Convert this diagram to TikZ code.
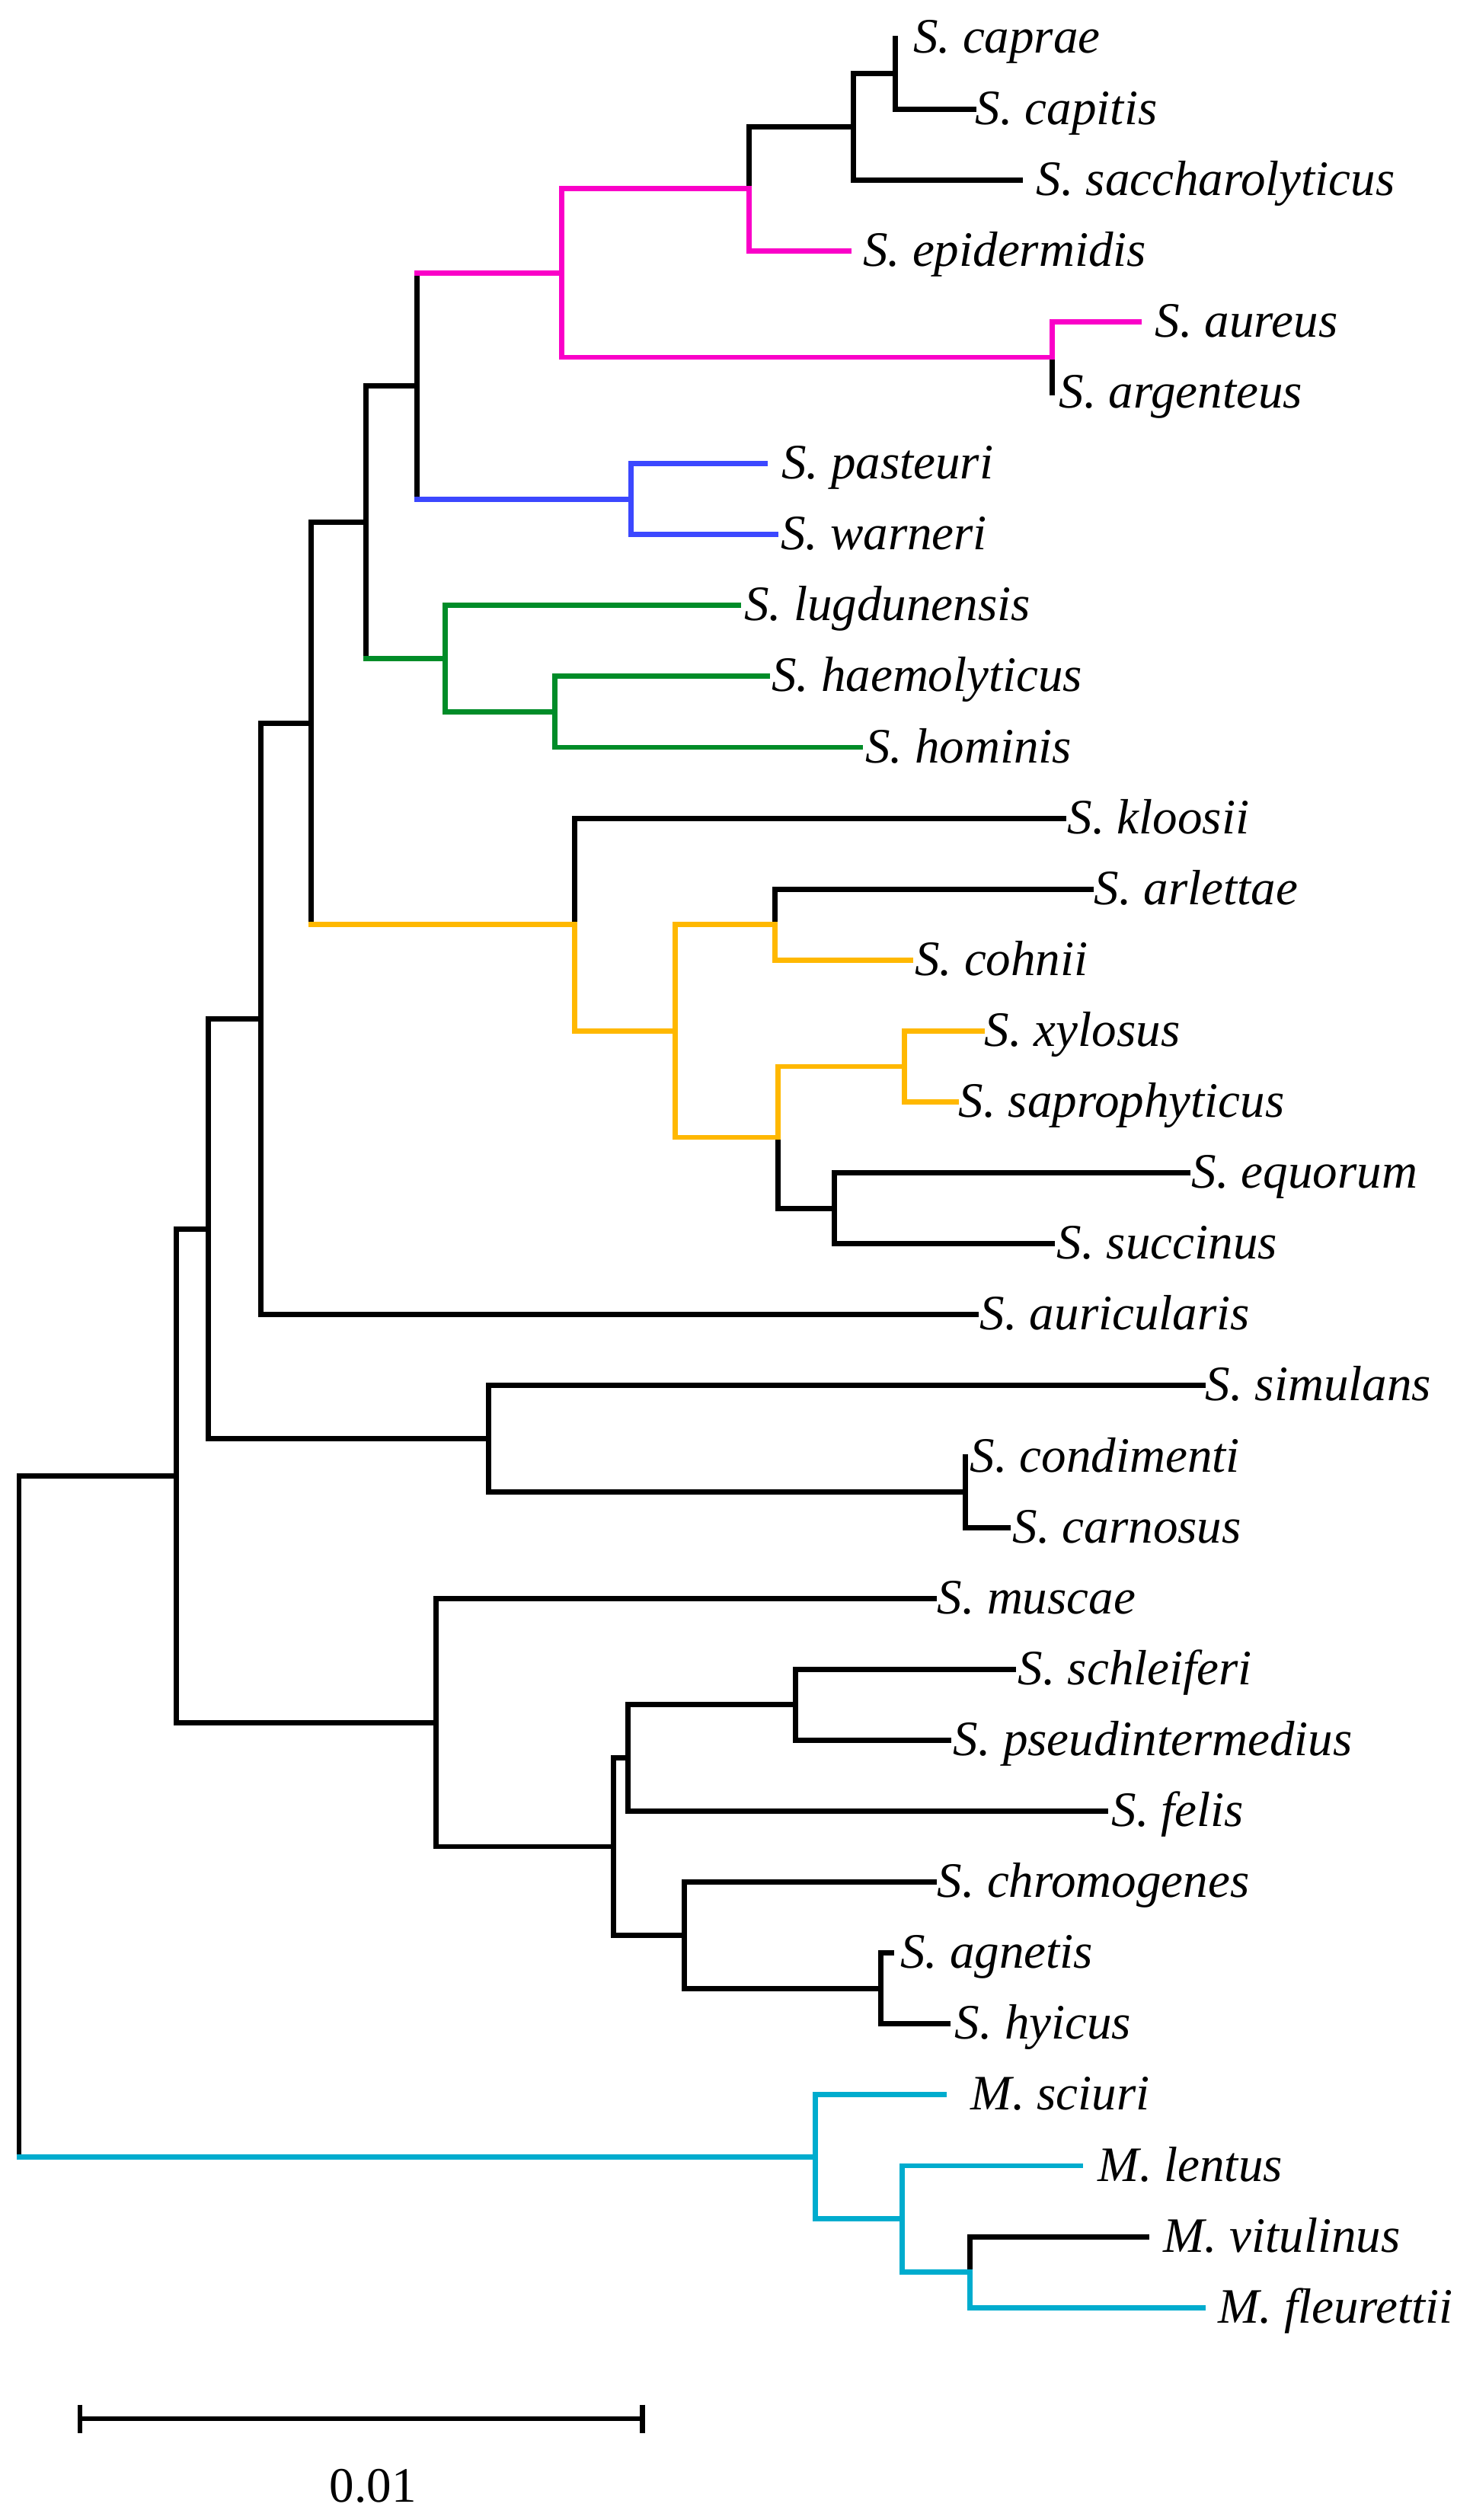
\documentclass[tikz,border=0pt]{standalone}
\usepackage{fontspec}
\setmainfont{Liberation Serif}
\usetikzlibrary{calc}
\definecolor{cladepink}{RGB}{250,0,200}
\definecolor{cladeblue}{RGB}{60,72,255}
\definecolor{cladegreen}{RGB}{0,140,40}
\definecolor{cladeyellow}{RGB}{255,184,0}
\definecolor{cladecyan}{RGB}{0,172,206}
% elbow from a parent to a child, and a stem whose upright stays black
\def\clade[#1](#2)(#3){\draw[branch,#1] (#2) |- (#3);}
\def\stem[#1](#2)(#3){\draw[branch] (#2) -- (#2 |- #3); \draw[branch,#1] (#2 |- #3) -- (#3);}

\begin{document}
\begin{tikzpicture}[x=0.01cm, y=-0.931cm,
    branch/.style={line width=1.95pt, line cap=rect},
    taxon/.style={anchor=base west, inner sep=0pt, yshift=-0.2cm, font=\fontsize{18.5}{22}\selectfont\itshape}]
			%%%%% START %%%%%
			
			\useasboundingbox (0,-0.537) rectangle (1935,34.995);
			
			% tips: name / end of branch / start of label / label
			\foreach \nm/\xe/\xl/\txt [count=\i from 0] in {
				caprae/1176/1199/S. caprae, capitis/1279/1281/S. capitis,
				sacch/1340/1361/S. saccharolyticus, epid/1115/1133/S. epidermidis,
				aureus/1496/1517/S. aureus, argent/1382/1391/S. argenteus,
				pasteur/1005/1026/S. pasteuri, warner/1019/1025/S. warneri,
				lugd/970/977/S. lugdunensis, haemo/1008/1013/S. haemolyticus,
				homin/1130/1136/S. hominis, kloos/1397/1402/S. kloosii,
				arlet/1433/1437/S. arlettae, cohn/1196/1201/S. cohnii,
				xylos/1290/1293/S. xylosus, sapro/1256/1259/S. saprophyticus,
				equor/1560/1565/S. equorum, succin/1382/1388/S. succinus,
				auric/1282/1287/S. auricularis, simul/1580/1583/S. simulans,
				condim/1268/1274/S. condimenti, carnos/1324/1330/S. carnosus,
				musc/1227/1231/S. muscae, schleif/1331/1337/S. schleiferi,
				pseud/1246/1252/S. pseudintermedius, felis/1452/1460/S. felis,
				chromo/1227/1231/S. chromogenes, agnet/1171/1182/S. agnetis,
				hyic/1245/1254/S. hyicus, sciuri/1240/1275/M. sciuri,
				lentus/1419/1442/M. lentus, vitul/1506/1528/M. vitulinus,
				fleur/1580/1600/M. fleurettii}
			{
				\coordinate (\nm) at (\xe,\i);
				\node[taxon] (\nm-lbl) at (\xl,\i) {\txt};
			}
			
			% inner nodes
			\coordinate (n1) at (1176,0.5);
			\coordinate (n2) at (1121,1.25);
			\coordinate (n3) at (984,2.125);
			\coordinate (n4) at (1382,4.5);
			\coordinate (n5) at (738,3.3125);
			\coordinate (n6) at (829,6.5);
			\coordinate (n7) at (548,4.906);
			\coordinate (n8) at (729,9.5);
			\coordinate (n9) at (585,8.75);
			\coordinate (n10) at (481,6.828);
			\coordinate (y1) at (1018,12.5);
			\coordinate (y2) at (1188,14.5);
			\coordinate (y3) at (1096,16.5);
			\coordinate (y4) at (1022,15.5);
			\coordinate (y5) at (887,14);
			\coordinate (y6) at (755,12.5);
			\coordinate (n11) at (409,9.664);
			\coordinate (n12) at (343,13.832);
			\coordinate (s1) at (1268,20.5);
			\coordinate (s2) at (642,19.75);
			\coordinate (n13) at (274,16.791);
			\coordinate (m1) at (1045,23.5);
			\coordinate (m2) at (825,24.25);
			\coordinate (m3) at (1157,27.5);
			\coordinate (m4) at (899,26.75);
			\coordinate (m5) at (806,25.5);
			\coordinate (m6) at (573,23.75);
			\coordinate (n14) at (232,20.27);
			\coordinate (c1) at (1274,31.5);
			\coordinate (c2) at (1185,30.75);
			\coordinate (c3) at (1071,29.875);
			\coordinate (root) at (25,25.07);
			
			% pink clade
			\clade[](n1)(caprae);
			\clade[](n1)(capitis);
			\clade[](n2)(n1);
			\clade[](n2)(sacch);
			\clade[](n3)(n2);
			\clade[cladepink](n3)(epid);
			\clade[cladepink](n4)(aureus);
			\clade[](n4)(argent);
			\clade[cladepink](n5)(n3);
			\clade[cladepink](n5)(n4);
			
			% blue clade
			\clade[cladeblue](n6)(pasteur);
			\clade[cladeblue](n6)(warner);
			\stem[cladepink](n7)(n5);
			\stem[cladeblue](n7)(n6);
			
			% green clade
			\clade[cladegreen](n8)(haemo);
			\clade[cladegreen](n8)(homin);
			\clade[cladegreen](n9)(lugd);
			\clade[cladegreen](n9)(n8);
			\clade[](n10)(n7);
			\stem[cladegreen](n10)(n9);
			
			% yellow clade
			\clade[](y1)(arlet);
			\clade[cladeyellow](y1)(cohn);
			\clade[cladeyellow](y2)(xylos);
			\clade[cladeyellow](y2)(sapro);
			\clade[](y3)(equor);
			\clade[](y3)(succin);
			\clade[cladeyellow](y4)(y2);
			\clade[](y4)(y3);
			\clade[cladeyellow](y5)(y1);
			\clade[cladeyellow](y5)(y4);
			\clade[](y6)(kloos);
			\clade[cladeyellow](y6)(y5);
			\clade[](n11)(n10);
			\stem[cladeyellow](n11)(y6);
			
			\clade[](n12)(n11);
			\clade[](n12)(auric);
			\clade[](s1)(condim);
			\clade[](s1)(carnos);
			\clade[](s2)(simul);
			\clade[](s2)(s1);
			\clade[](n13)(n12);
			\clade[](n13)(s2);
			
			\clade[](m1)(schleif);
			\clade[](m1)(pseud);
			\clade[](m2)(m1);
			\clade[](m2)(felis);
			\clade[](m3)(agnet);
			\clade[](m3)(hyic);
			\clade[](m4)(chromo);
			\clade[](m4)(m3);
			\clade[](m5)(m2);
			\clade[](m5)(m4);
			\clade[](m6)(musc);
			\clade[](m6)(m5);
			\clade[](n14)(n13);
			\clade[](n14)(m6);
			
			% cyan clade
			\clade[](c1)(vitul);
			\clade[cladecyan](c1)(fleur);
			\clade[cladecyan](c2)(lentus);
			\clade[cladecyan](c2)(c1);
			\clade[cladecyan](c3)(sciuri);
			\clade[cladecyan](c3)(c2);
			\clade[](root)(n14);
			\stem[cladecyan](root)(c3);
			
			% scale bar
			\coordinate (bar-l) at (105,33.566);
			\coordinate (bar-r) at (844,33.566);
			\draw[branch, line cap=butt] (bar-l) -- (bar-r);
			\draw[branch, line cap=butt] ([yshift=0.185cm]bar-l) -- ([yshift=-0.185cm]bar-l);
			\draw[branch, line cap=butt] ([yshift=0.185cm]bar-r) -- ([yshift=-0.185cm]bar-r);
			\node[font=\fontsize{18.5}{22}\selectfont] (bar-lbl) at (490,34.51) {0.01};
			
			%%%%% END %%%%%
		\end{tikzpicture}
\end{document}
